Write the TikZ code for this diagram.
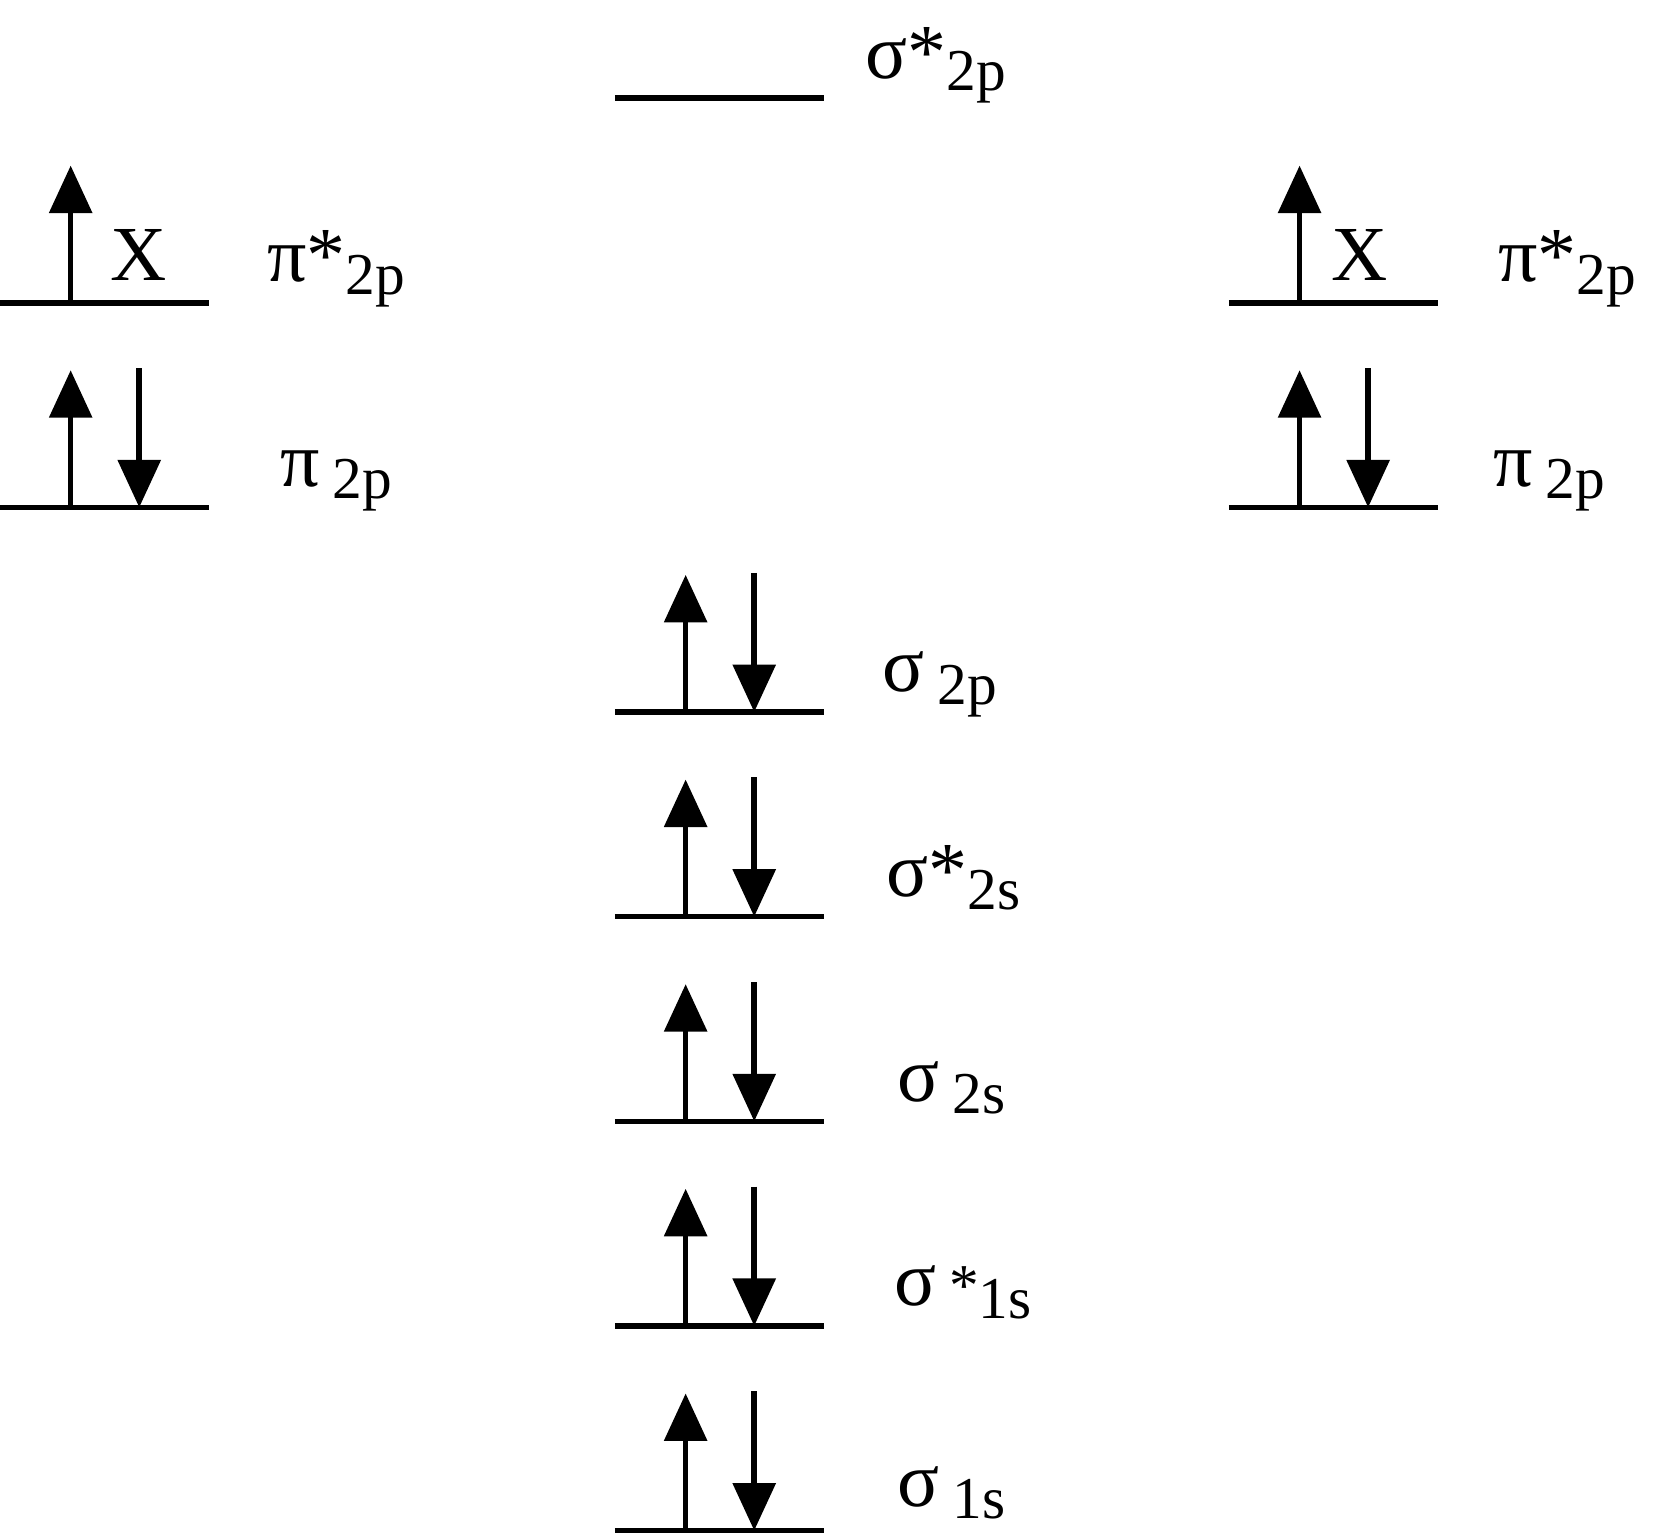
\documentclass[tikz,border=0pt]{standalone}
\usepackage{fontspec}
\setmainfont{Liberation Serif}
\usetikzlibrary{arrows.meta}
\begin{document}
\begin{tikzpicture}[x=0.01cm, y=-0.01cm,
	level/.style={line width=1.5pt},
	spin/.style={line width=1.5pt, -{Triangle[length=0.45cm, width=0.4cm]}},
	lbl/.style={anchor=base west, inner sep=0pt, font=\fontsize{21}{21}\selectfont}]
	\newcommand{\Sub}[1]{{\fontsize{16}{16}\selectfont\raisebox{-0.12cm}{#1}}}
	% level: name, left x, y
	\newcommand{\Level}[3]{
		\coordinate (#1w) at (#2,#3);
		\coordinate (#1e) at (#2+198,#3);
		\coordinate (#1u) at (#2+67,#3);
		\coordinate (#1d) at (#2+132,#3);
		\coordinate (#1ut) at (#2+67,#3-130);
		\coordinate (#1dt) at (#2+132,#3-132);
		\draw[level] (#1w) -- (#1e);
	}
	\useasboundingbox (0,0) rectangle (1568,1455);

	%Zentrum
	\Level{ssp}{583}{93}
	\Level{sp}{583}{675}
	\Level{sss}{583}{869}
	\Level{ss}{583}{1063}
	\Level{s1s}{583}{1257}
	\Level{s1}{583}{1451}
	\foreach \n in {sp,sss,ss,s1s,s1} {
		\draw[spin] (\n u) -- (\n ut);
		\draw[spin] (\n dt) -- (\n d);
	}

	%Links und rechts
	\Level{lpp}{0}{287}
	\Level{lp}{0}{481}
	\Level{rpp}{1165}{287}
	\Level{rp}{1165}{481}
	\foreach \n in {lpp,lp,rpp,rp}
		\draw[spin] (\n u) -- (\n ut);
	\draw[spin] (lpdt) -- (lpd);
	\draw[spin] (rpdt) -- (rpd);

	%Beschriftung
	\node[lbl] (xl) at (104,266) {X};
	\node[lbl] (xr) at (1262,266) {X};
	\node[lbl] (tssp) at (820,74) {σ*\Sub{2p}};
	\node[lbl] (tlpp) at (253,267) {π*\Sub{2p}};
	\node[lbl] (tlp) at (265,461) {π\,\Sub{2p}};
	\node[lbl] (trpp) at (1420,267) {π*\Sub{2p}};
	\node[lbl] (trp) at (1415,461) {π\,\Sub{2p}};
	\node[lbl] (tsp) at (836,656) {σ\,\Sub{2p}};
	\node[lbl] (tsss) at (840,850) {σ*\Sub{2s}};
	\node[lbl] (tss) at (850,1044) {σ\,\Sub{2s}};
	\node[lbl] (ts1s) at (847,1238) {σ\,{\fontsize{16}{16}\selectfont *}\Sub{1s}};
	\node[lbl] (ts1) at (850,1428) {σ\,\Sub{1s}};
\end{tikzpicture}
\end{document}
